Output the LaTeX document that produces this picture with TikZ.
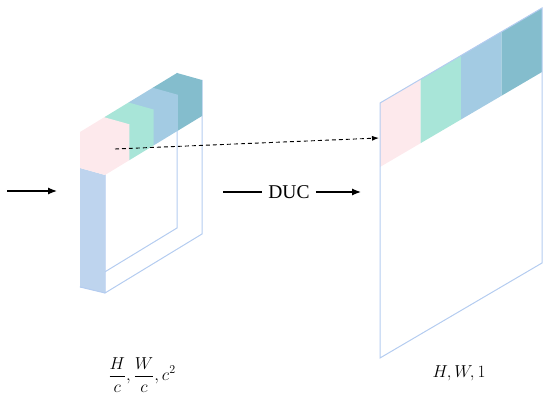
\documentclass[tikz,border=0pt]{standalone}
\usepackage{xcolor}
\usepackage{fontspec}
\usepackage{tikz}
\usetikzlibrary{positioning, arrows.meta, calc}
\newfontfamily\ducfont{Liberation Serif}
\definecolor{pinkish}{RGB}{253,233,236}
\definecolor{greenish}{RGB}{168,229,216}
\definecolor{blueish}{RGB}{163,203,227}
\definecolor{tealish}{RGB}{132,189,205}
\definecolor{sidestrip}{RGB}{190,212,238}
\definecolor{edgeblue}{RGB}{180,204,240}

\begin{document}
\begin{tikzpicture}[x=1pt, y=-1pt,
    edge/.style={draw=edgeblue, line width=1pt},
    flow/.style={line width=1.2pt, -{Latex[length=9pt, width=7pt]}},
    dimtext/.style={font=\fontsize{18}{22}\selectfont, inner sep=0pt}]
    \useasboundingbox (0,0) rectangle (550,404);

    % small slab
    \coordinate (p0) at (80,132);
    \draw[edge] (177,73) -- (177,228) -- (80,287);
    \draw[edge] (105,139) -- (105,293) -- (202,234) -- (202,80);
    \fill[sidestrip] (80,168) -- (105,175) -- (105,293) -- (80,287) -- cycle;
    \draw[edge] (80,287) -- (105,293);
    \foreach \k/\col in {3/tealish, 2/blueish, 1/greenish, 0/pinkish}
      \fill[\col] ($(p0)+\k*(24.25,-14.75)$) -- ++(24.25,-14.75) -- ++(25,7)
          -- ++(0,36) -- ++(-24.25,14.75) -- ++(-25,-7) -- cycle;

    % big block
    \coordinate (bigtl) at (380,103);
    \foreach \k/\col in {0/pinkish, 1/greenish, 2/blueish, 3/tealish}
      \fill[\col] ($(bigtl)+\k*(40.5,-23.75)$) -- ++(40.5,-23.75) -- ++(0,64)
          -- ++(-40.5,23.75) -- cycle;
    \draw[edge] (bigtl) -- (542,8) -- (542,263) -- (380,358) -- cycle;

    % arrows
    \coordinate (instart) at (7,191);
    \coordinate (inend) at (57,191);
    \draw[flow] (instart) -- (inend);

    \node[dimtext, font=\fontsize{19.5}{22}\selectfont, inner xsep=6pt] (duc) at (289,192) {\ducfont DUC};
    \coordinate (ducstart) at (223,192);
    \coordinate (ducend) at (361,192);
    \draw[line width=1.2pt] (ducstart) -- (duc);
    \draw[flow] (duc) -- (ducend);

    \coordinate (pinkmid) at (115,149);
    \coordinate (bigleft) at (379,138);
    \draw[line width=0.9pt, dash pattern=on 4pt off 3pt,
          -{Latex[length=7pt, width=5pt]}] (pinkmid) -- (bigleft);

    % sizes
    \node[dimtext] (smalldims) at (142,375) {$\displaystyle\frac{H}{c},\frac{W}{c},c^2$};
    \node[dimtext] (bigdims) at (459,373) {$H,W,1$};
\end{tikzpicture}
\end{document}
